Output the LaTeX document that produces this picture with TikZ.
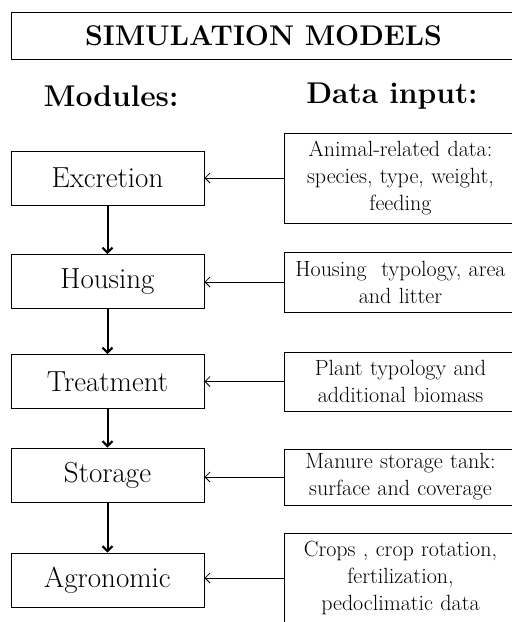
\documentclass[tikz,border=0pt]{standalone}
\usepackage{fontspec}
\usepackage{tikz}
\usetikzlibrary{positioning, arrows.meta}

\begin{document}
\begin{tikzpicture}[x=1pt, y=-1pt,
    titlebox/.style={draw, line width=1pt, minimum width=504pt, minimum height=47pt, inner sep=0pt, font=\fontsize{28.5}{32}\selectfont\bfseries},
    header/.style={font=\fontsize{30}{34}\selectfont\bfseries},
    module/.style={draw, line width=1pt, minimum width=193pt, minimum height=54pt, inner sep=0pt, font=\fontsize{29}{34}\selectfont},
    datain/.style={draw, line width=1pt, anchor=west, minimum width=232pt, text width=226pt, align=center, inner sep=0pt, font=\fontsize{22}{27}\selectfont},
    feed/.style={-{Straight Barb[length=5pt, width=10pt]}, line width=0.8pt},
    flow/.style={-{Straight Barb[length=5pt, width=10pt]}, line width=2pt}]
    \clip (0,0) rectangle (512,622);
    \fill[white] (0,0) rectangle (512,622);

    \node[titlebox, anchor=north west] (title) at (11,12) {SIMULATION MODELS};
    \node[header] (modhead) at (111,96) {Modules:};
    \node[header] (datahead) at (392,96) {Data input:};

    % modules
    \node[module] (excretion) at (107.5,178) {Excretion};
    \node[module] (housing) at (107.5,281.5) {Housing};
    \node[module] (treatment) at (107.5,381.5) {Treatment};
    \node[module] (storage) at (107.5,475) {Storage};
    \node[module] (agronomic) at (107.5,580) {Agronomic};

    % data input
    \node[datain, minimum height=90pt] (animal) at (284,178) {Animal-related data:\\ species, type, weight,\\ feeding};
    \node[datain, minimum height=60pt] (housingin) at (284,282) {Housing\ \ typology, area\\ and litter};
    \node[datain, minimum height=59pt] (plant) at (284,381.5) {Plant typology and\\ additional biomass};
    \node[datain, minimum height=56pt] (manure) at (284,477) {Manure storage tank:\\ surface and coverage};
    \node[datain, minimum height=90pt] (crops) at (284,578) {Crops , crop rotation,\\ fertilization,\\ pedoclimatic data};

    \draw[flow] (excretion) -- (housing);
    \draw[flow] (housing) -- (treatment);
    \draw[flow] (treatment) -- (storage);
    \draw[flow] (storage) -- (agronomic);

    \draw[feed] (animal.west) -- (excretion.east |- animal.west);
    \draw[feed] (housingin.west) -- (housing.east |- housingin.west);
    \draw[feed] (plant.west) -- (treatment.east |- plant.west);
    \draw[feed] (manure.west) -- (storage.east |- manure.west);
    \draw[feed] (crops.west) -- (agronomic.east |- crops.west);
\end{tikzpicture}
\end{document}
